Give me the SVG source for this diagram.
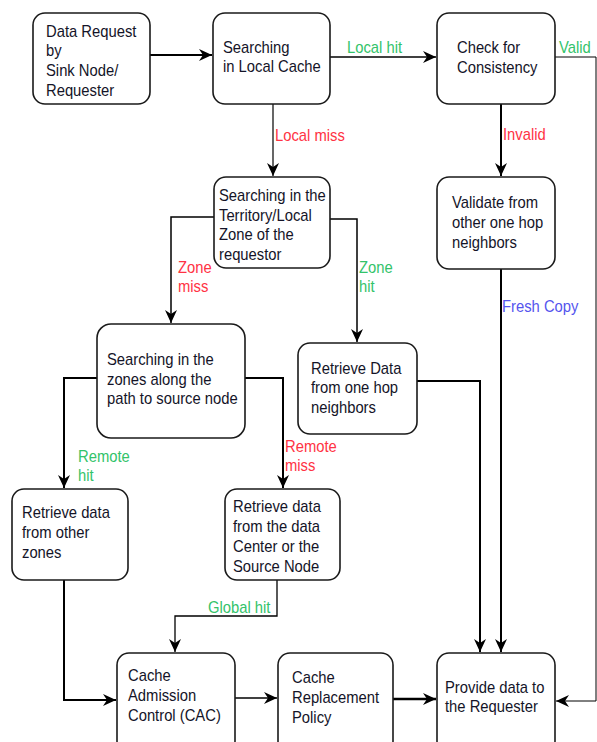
<svg xmlns="http://www.w3.org/2000/svg" width="597" height="742" viewBox="0 0 597 742">
<style>
.box{fill:#fff;stroke:#1a1a1a;stroke-width:1.6}
text{font-family:"Liberation Sans",Arial,sans-serif;font-size:17px}
.t{fill:#141428}
.g{fill:#33c36a}
.r{fill:#ff3344}
.b{fill:#5555ee}
.c{fill:none;stroke:#000}
</style>
<defs>
<marker id="ah" markerUnits="userSpaceOnUse" markerWidth="14" markerHeight="12" refX="13" refY="6" orient="auto">
<path d="M0,0 L13,6 L0,12 L4,6 z" fill="#000"/>
</marker>
</defs>
<rect width="597" height="742" fill="#fff"/>
<g id="connectors">
<path class="c" d="M150,55 H212" stroke-width="2" marker-end="url(#ah)"/>
<path class="c" d="M330,57 H436" stroke-width="1.3" marker-end="url(#ah)"/>
<path class="c" d="M555,57 H596 V701 H556" stroke-width="1" stroke="#444" marker-end="url(#ah)"/>
<path class="c" d="M273,104 V176" stroke-width="1.2" marker-end="url(#ah)"/>
<path class="c" d="M501,104 V176" stroke-width="2" marker-end="url(#ah)"/>
<path class="c" d="M214,217 H171 V323" stroke-width="1.5" marker-end="url(#ah)"/>
<path class="c" d="M330,219 H357 V342" stroke-width="1.5" marker-end="url(#ah)"/>
<path class="c" d="M97,378 H64 V488" stroke-width="2" marker-end="url(#ah)"/>
<path class="c" d="M245,378 H283 V488" stroke-width="2" marker-end="url(#ah)"/>
<path class="c" d="M417,381 H480 V652" stroke-width="2" marker-end="url(#ah)"/>
<path class="c" d="M501,269 V652" stroke-width="2" marker-end="url(#ah)"/>
<path class="c" d="M64,580 V700 H116" stroke-width="2" marker-end="url(#ah)"/>
<path class="c" d="M277,580 V616 H175 V652" stroke-width="1.3" marker-end="url(#ah)"/>
<path class="c" d="M235,698 H277" stroke-width="1.5" marker-end="url(#ah)"/>
<path class="c" d="M393,699 H436" stroke-width="2.5" marker-end="url(#ah)"/>
</g>
<g id="labels">
<text class="g" transform="translate(347 0) scale(0.87 1)" y="53">Local hit</text>
<text class="g" transform="translate(559 0) scale(0.87 1)" y="53">Valid</text>
<text class="r" transform="translate(275 0) scale(0.87 1)" y="141">Local miss</text>
<text class="r" transform="translate(503 0) scale(0.87 1)" y="140">Invalid</text>
<g transform="translate(178 0) scale(0.87 1)"><text class="r" y="273">Zone</text><text class="r" y="292">miss</text></g>
<g transform="translate(359 0) scale(0.87 1)"><text class="g" y="273">Zone</text><text class="g" y="292">hit</text></g>
<g transform="translate(78 0) scale(0.87 1)"><text class="g" y="462">Remote</text><text class="g" y="481">hit</text></g>
<g transform="translate(285 0) scale(0.87 1)"><text class="r" y="452">Remote</text><text class="r" y="471">miss</text></g>
<text class="b" transform="translate(502 0) scale(0.87 1)" y="312">Fresh Copy</text>
<text class="g" transform="translate(208 0) scale(0.87 1)" y="613">Global hit</text>
</g>
<g id="n1">
<rect class="box" x="33" y="13" width="117" height="91" rx="12"/>
<g transform="translate(46 0) scale(0.87 1)">
<text class="t" y="37">Data Request</text>
<text class="t" y="56.5">by</text>
<text class="t" y="76">Sink Node/</text>
<text class="t" y="96">Requester</text>
</g>
</g>
<g id="n2">
<rect class="box" x="213" y="13" width="117" height="91" rx="12"/>
<g transform="translate(223 0) scale(0.87 1)">
<text class="t" y="53">Searching</text>
<text class="t" y="72">in Local Cache</text>
</g>
</g>
<g id="n3">
<rect class="box" x="437" y="13" width="118" height="91" rx="12"/>
<g transform="translate(457 0) scale(0.87 1)">
<text class="t" y="53">Check for</text>
<text class="t" y="73">Consistency</text>
</g>
</g>
<g id="n4">
<rect class="box" x="214" y="177" width="116" height="91" rx="12"/>
<g transform="translate(219 0) scale(0.87 1)">
<text class="t" y="201">Searching in the</text>
<text class="t" y="221">Territory/Local</text>
<text class="t" y="240">Zone of the</text>
<text class="t" y="260">requestor</text>
</g>
</g>
<g id="n5">
<rect class="box" x="437" y="177" width="118" height="92" rx="12"/>
<g transform="translate(452 0) scale(0.87 1)">
<text class="t" y="208">Validate from</text>
<text class="t" y="228">other one hop</text>
<text class="t" y="248">neighbors</text>
</g>
</g>
<g id="n6">
<rect class="box" x="97" y="324" width="148" height="114" rx="14"/>
<g transform="translate(107 0) scale(0.87 1)">
<text class="t" y="365">Searching in the</text>
<text class="t" y="385">zones along the</text>
<text class="t" y="404">path to source node</text>
</g>
</g>
<g id="n7">
<rect class="box" x="298" y="343" width="119" height="91" rx="12"/>
<g transform="translate(311 0) scale(0.87 1)">
<text class="t" y="374">Retrieve Data</text>
<text class="t" y="393">from one hop</text>
<text class="t" y="413">neighbors</text>
</g>
</g>
<g id="n8">
<rect class="box" x="12" y="489" width="116" height="91" rx="12"/>
<g transform="translate(22 0) scale(0.87 1)">
<text class="t" y="518">Retrieve data</text>
<text class="t" y="538">from other</text>
<text class="t" y="558">zones</text>
</g>
</g>
<g id="n9">
<rect class="box" x="225" y="489" width="115" height="91" rx="12"/>
<g transform="translate(233 0) scale(0.87 1)">
<text class="t" y="512">Retrieve data</text>
<text class="t" y="532">from the data</text>
<text class="t" y="552">Center or the</text>
<text class="t" y="572">Source Node</text>
</g>
</g>
<g id="n10">
<rect class="box" x="117" y="653" width="118" height="100" rx="12"/>
<g transform="translate(128 0) scale(0.87 1)">
<text class="t" y="681">Cache</text>
<text class="t" y="701">Admission</text>
<text class="t" y="721">Control (CAC)</text>
</g>
</g>
<g id="n11">
<rect class="box" x="278" y="653" width="115" height="100" rx="12"/>
<g transform="translate(292 0) scale(0.87 1)">
<text class="t" y="683">Cache</text>
<text class="t" y="703">Replacement</text>
<text class="t" y="723">Policy</text>
</g>
</g>
<g id="n12">
<rect class="box" x="437" y="653" width="118" height="100" rx="12"/>
<g transform="translate(445 0) scale(0.87 1)">
<text class="t" y="693">Provide data to</text>
<text class="t" y="712">the Requester</text>
</g>
</g>
</svg>
